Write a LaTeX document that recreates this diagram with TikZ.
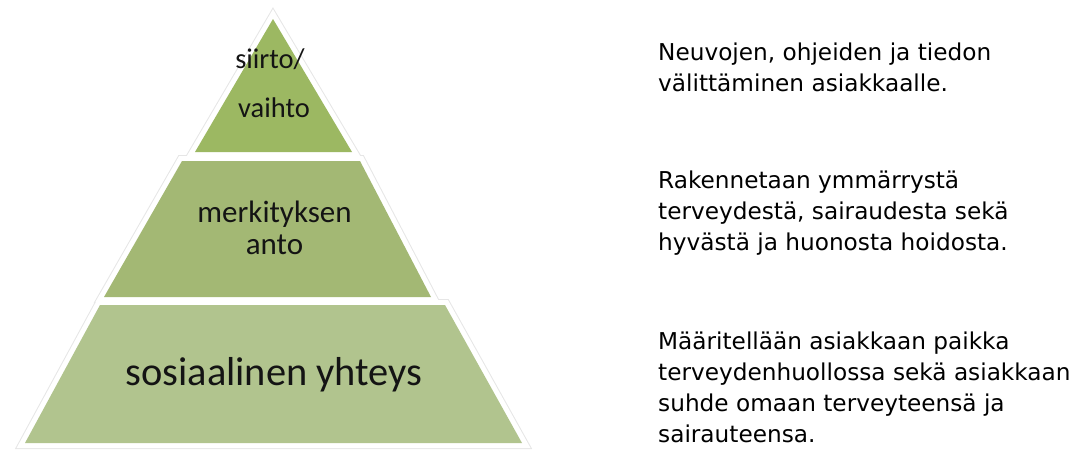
\documentclass[tikz,border=0pt]{standalone}
\usepackage{fontspec}
\setmainfont{Carlito}
\newfontfamily\descfont{DejaVu Sans}
\definecolor{gtop}{HTML}{9CB862}
\definecolor{gmid}{HTML}{A3B874}
\definecolor{gbot}{HTML}{B1C48E}
\definecolor{edgegrey}{HTML}{E6E6E6}
\definecolor{labelink}{HTML}{141414}
\tikzset{
  outeredge/.style={draw=edgegrey, line width=12pt},
  whiteedge/.style={draw=white, line width=10pt},
  pyrlabel/.style={anchor=base, inner sep=0pt, text=labelink},
  desc/.style={anchor=base west, inner sep=0pt, align=left, text=black,
    font=\descfont\fontsize{23.2}{31}\selectfont},
}
\begin{document}
\begin{tikzpicture}[x=1pt,y=-1pt]
\useasboundingbox (0,0) rectangle (1077,450);
% outer faint edges
\path[outeredge] (273,19) -- (352,152) -- (195,152) -- cycle;
\path[outeredge] (182,161) -- (360,161) -- (431,297) -- (104,297) -- cycle;
\path[outeredge] (100,305) -- (445,305) -- (522,443) -- (25,443) -- cycle;
% white borders
\path[whiteedge] (273,19) -- (352,152) -- (195,152) -- cycle;
\path[whiteedge] (182,161) -- (360,161) -- (431,297) -- (104,297) -- cycle;
\path[whiteedge] (100,305) -- (445,305) -- (522,443) -- (25,443) -- cycle;
% fills
\fill[gtop] (273,19) -- (352,152) -- (195,152) -- cycle;
\fill[gmid] (182,161) -- (360,161) -- (431,297) -- (104,297) -- cycle;
\fill[gbot] (100,305) -- (445,305) -- (522,443) -- (25,443) -- cycle;
% pyramid labels
\node[pyrlabel, font=\fontsize{28.5}{34}\selectfont] (l1a) at (270,68) {siirto/};
\node[pyrlabel, font=\fontsize{28.5}{34}\selectfont] (l1b) at (274,117) {vaihto};
\node[pyrlabel, font=\fontsize{31}{36}\selectfont] (l2a) at (274.5,222) {merkityksen};
\node[pyrlabel, font=\fontsize{31}{36}\selectfont] (l2b) at (274.5,254) {anto};
\node[pyrlabel, font=\fontsize{40.4}{46}\selectfont] (l3) at (274,385) {sosiaalinen yhteys};
% descriptions (anchored at baseline of last line)
\node[desc] (d1) at (658,91) {Neuvojen, ohjeiden ja tiedon\\välittäminen asiakkaalle.};
\node[desc] (d2) at (658,250) {Rakennetaan ymmärrystä\\terveydestä, sairaudesta sekä\\hyvästä ja huonosta hoidosta.};
\node[desc] (d3) at (658,442) {Määritellään asiakkaan paikka\\terveydenhuollossa sekä asiakkaan\\suhde omaan terveyteensä ja\\sairauteensa.};
\end{tikzpicture}
\end{document}
